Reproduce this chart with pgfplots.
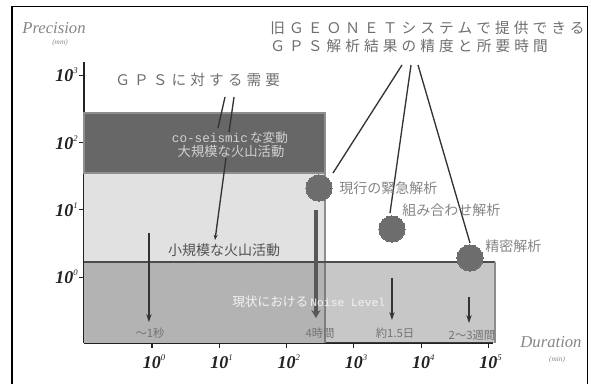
\documentclass[border=0pt]{standalone}
\usepackage{fontspec}
\setmainfont{Liberation Serif}
\setmonofont{Liberation Mono}
\newfontfamily\jp{Noto Sans CJK JP}
\usepackage{pgfplots}
\pgfplotsset{compat=1.18}
\usetikzlibrary{arrows.meta}

\definecolor{lightfill}{HTML}{E1E1E1}
\definecolor{darkfill}{HTML}{676767}
\definecolor{darkedge}{HTML}{8E8E8E}
\definecolor{noisefill}{HTML}{646464}
\definecolor{circ}{HTML}{6D6D6D}
\definecolor{barc}{HTML}{585858}
\definecolor{arrowc}{HTML}{333333}
\definecolor{labc}{HTML}{858585}
\definecolor{titlec}{HTML}{6E6E6E}
\definecolor{axisc}{HTML}{222222}

\newcommand\fs[1]{\fontsize{#1}{#1}\selectfont}
% tick labels: bold italic 10 with a small exponent
\newcommand\tlx[1]{{\fs{13.5pt}\bfseries\itshape 10}\rlap{\raisebox{6pt}{\fs{6.5pt}\itshape #1}}}
\newcommand\tly[1]{{\fs{13.5pt}\bfseries\itshape 10}\raisebox{6pt}{\fs{6.5pt}\itshape #1}}

\begin{document}
\begin{tikzpicture}
\useasboundingbox (0,0) rectangle (443.25pt,287.25pt);
\clip (0,0) rectangle (443.25pt,287.25pt);

\begin{axis}[
  at={(63pt,30pt)}, anchor=south west,
  scale only axis, width=306.75pt, height=210.75pt,
  xmode=log, ymode=log,
  xmin=0.0977, xmax=116700, ymin=0.1047, ymax=1567,
  axis lines=left,
  axis line style={-, line width=1.1pt, draw=axisc},
  xtick={1,10,100,1000,10000,100000},
  ytick={1,10,100,1000},
  xticklabels={\tlx{0},\tlx{1},\tlx{2},\tlx{3},\tlx{4},\tlx{5}},
  yticklabels={\tly{0},\tly{1},\tly{2},\tly{3}},
  xminorticks=false, yminorticks=false,
  tick align=outside, major tick length=3.5pt,
  every tick/.style={axisc, line width=0.8pt},
  xticklabel style={text=axisc, inner sep=1pt, yshift=-4pt},
  yticklabel style={text=axisc, inner sep=1pt},
  clip=false,
]
% demand for small volcanic activity
\addplot[fill=lightfill, draw=none] coordinates {(0.0977,0.1047) (372,0.1047) (372,35.1) (0.0977,35.1)} -- cycle;
\addplot[draw=darkedge, line width=1.2pt] coordinates {(372,35.1) (372,0.1047)};
% co-seismic / large volcanic activity
\addplot[fill=darkfill, draw=darkedge, line width=1.5pt] coordinates {(0.0977,35.1) (372,35.1) (372,273) (0.0977,273)} -- cycle;
% current noise level
\addplot[fill=noisefill, fill opacity=0.36, draw=none] coordinates {(0.0977,0.1047) (125000,0.1047) (125000,1.67) (0.0977,1.67)} -- cycle;
\addplot[draw=black!70, line width=0.9pt] coordinates {(0.0977,1.67) (125000,1.67)};
\addplot[draw=black!45, line width=0.8pt] coordinates {(125000,1.67) (125000,0.1047)};
% durations
\addplot[arrowc, line width=1.2pt, -{Stealth[length=6pt,width=4pt]}] coordinates {(0.9,4.5) (0.9,0.214)};
\addplot[barc, line width=3pt, -{Stealth[length=6pt,width=7pt]}] coordinates {(273,9.9) (273,0.246)};
\addplot[arrowc, line width=1.2pt, -{Stealth[length=6pt,width=4pt]}] coordinates {(3680,0.97) (3680,0.23)};
\addplot[arrowc, line width=1.2pt, -{Stealth[length=6pt,width=4pt]}] coordinates {(51300,0.50) (51300,0.207)};
% GEONET analysis results
\addplot[only marks, draw=circ, fill=circ, mark=*, mark size=9.8pt, mark options={fill=circ, draw=circ, line width=0pt}] coordinates {(303,21.0) (3680,5.17) (53100,1.92)};
\end{axis}

% annotations in pixel units, measured from the top-left corner
\begin{scope}[x=0.75pt, y=-0.75pt, shift={(0,287.25pt)}]
% outer frame
\draw[line width=1.3pt, black] (12,6.5) rectangle (587.5,420);

% leader lines
\draw[arrowc, line width=1pt] (225,97) -- (218,128);
\draw[arrowc, line width=1pt] (234,97) -- (229,132);
\draw[arrowc, line width=1pt, -{Stealth[length=4pt,width=3pt]}] (226,158) -- (215,240);
\draw[arrowc, line width=1pt] (402,65) -- (333,173);
\draw[arrowc, line width=1pt] (411,65) -- (390,213);
\draw[arrowc, line width=1pt] (418,65) -- (470,243);

% axis titles
\node[text=labc, inner sep=0] at (54,28) {\fs{12.5pt}\itshape Precision};
\node[text=labc, inner sep=0] at (60,43) {\fs{5.5pt}\itshape (mm)};
\node[text=labc, inner sep=0] at (551,342) {\fs{12.5pt}\itshape Duration};
\node[text=labc, inner sep=0] at (557,360) {\fs{5.5pt}\itshape (min)};

% headings
\node[anchor=west, text=titlec, inner sep=0] at (270,28) {\jp\fs{11pt}\addfontfeature{LetterSpace=28}旧ＧＥＯＮＥＴシステムで提供できる};
\node[anchor=west, text=titlec, inner sep=0] at (270,46) {\jp\fs{11pt}\addfontfeature{LetterSpace=28}ＧＰＳ解析結果の精度と所要時間};
\node[anchor=west, text=titlec, inner sep=0] at (115,80) {\jp\fs{11pt}\addfontfeature{LetterSpace=28}ＧＰＳに対する需要};

% region labels
\node[text=black!18, inner sep=0] at (230,138) {\fs{9.5pt}\ttfamily co-seismic\,\jp な変動};
\node[text=black!18, inner sep=0] at (231,151) {\jp\fs{10pt}大規模な火山活動};
\node[text=black!68, inner sep=0] at (224,250) {\jp\fs{10.5pt}小規模な火山活動};
\node[anchor=west, text=black!5, inner sep=0] at (232,302) {\jp\fs{9.5pt}現状における\,\ttfamily\fs{8.5pt}Noise Level};

% analysis labels
\node[anchor=west, text=labc, inner sep=0] at (339,188) {\jp\fs{10.5pt}現行の緊急解析};
\node[anchor=west, text=labc, inner sep=0] at (402,210) {\jp\fs{10.5pt}組み合わせ解析};
\node[anchor=west, text=labc, inner sep=0] at (485,246) {\jp\fs{10.5pt}精密解析};

% duration labels
\node[text=black!55, inner sep=0] at (150,333) {\jp\fs{8.5pt}～1秒};
\node[text=black!55, inner sep=0] at (320,333) {\jp\fs{8.5pt}4時間};
\node[text=black!55, inner sep=0] at (395,333) {\jp\fs{8.5pt}約1.5日};
\node[text=black!55, inner sep=0] at (472,335) {\jp\fs{8.5pt}2～3週間};
\end{scope}
\end{tikzpicture}
\end{document}
